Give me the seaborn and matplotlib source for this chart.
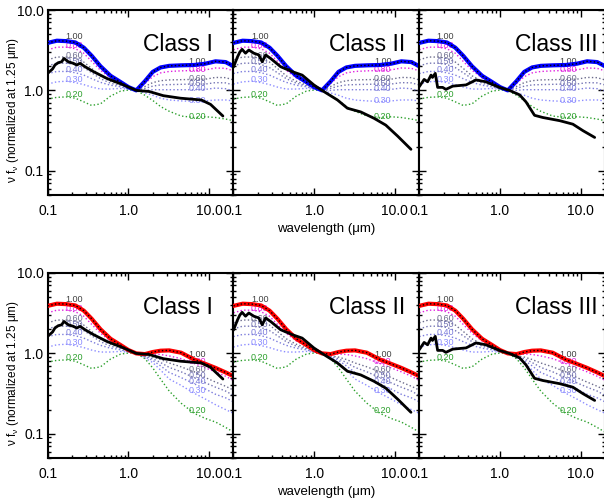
import numpy as np
import matplotlib
matplotlib.use("Agg")
import matplotlib.pyplot as plt
from matplotlib.ticker import FixedLocator, FixedFormatter, LogLocator, NullFormatter
import seaborn as sns

# wavelength grid of the model curves (micron)
wave_uv = [0.1, 0.13, 0.17, 0.22, 0.28, 0.35, 0.45, 0.6, 0.8, 1.0, 1.25]
wave_ir = [1.6, 2.0, 2.5, 3.2, 4.5, 6.5, 9.0, 12.0, 16.0, 20.0]

frac_labels = ["1.00", "0.80", "0.60", "0.50", "0.40", "0.30", "0.20"]

# short wavelength part of the models (same in both rows)
uv_100 = [3.9, 4.15, 4.1, 3.95, 3.4, 2.7, 2.0, 1.52, 1.27, 1.1, 1.0]
uv_080 = [3.2, 3.45, 3.45, 3.3, 2.9, 2.3, 1.78, 1.43, 1.23, 1.08, 1.0]
uv_060 = [2.4, 2.6, 2.6, 2.5, 2.25, 1.88, 1.52, 1.3, 1.17, 1.06, 1.0]
uv_050 = [2.02, 2.18, 2.18, 2.1, 1.92, 1.66, 1.4, 1.23, 1.14, 1.05, 1.0]
uv_040 = [1.62, 1.72, 1.72, 1.66, 1.55, 1.4, 1.26, 1.16, 1.11, 1.04, 1.0]
uv_030 = [1.2, 1.28, 1.3, 1.25, 1.18, 1.1, 1.04, 1.04, 1.06, 1.03, 1.0]
uv_020 = [0.78, 0.82, 0.83, 0.8, 0.72, 0.65, 0.68, 0.85, 0.98, 1.01, 1.0]

# long wavelength part, top row (blue model)
ir_top_100 = [1.3, 1.7, 1.93, 2.02, 2.05, 2.07, 2.15, 2.3, 2.25, 2.0]
ir_top_080 = [1.22, 1.48, 1.65, 1.72, 1.75, 1.77, 1.8, 1.9, 1.88, 1.75]
ir_top_060 = [1.12, 1.25, 1.32, 1.35, 1.36, 1.37, 1.38, 1.45, 1.44, 1.35]
ir_top_050 = [1.06, 1.13, 1.17, 1.18, 1.19, 1.2, 1.2, 1.25, 1.24, 1.17]
ir_top_040 = [1.0, 1.02, 1.02, 1.02, 1.02, 1.02, 1.03, 1.07, 1.05, 0.98]
ir_top_030 = [0.93, 0.87, 0.8, 0.76, 0.74, 0.73, 0.74, 0.76, 0.76, 0.74]
ir_top_020 = [0.87, 0.75, 0.63, 0.55, 0.48, 0.46, 0.47, 0.46, 0.44, 0.42]

# long wavelength part, bottom row (red model)
ir_bot_100 = [0.98, 1.04, 1.08, 1.09, 1.02, 0.84, 0.74, 0.66, 0.58, 0.52]
ir_bot_080 = [0.96, 0.98, 0.97, 0.93, 0.86, 0.75, 0.66, 0.59, 0.52, 0.46]
ir_bot_060 = [0.93, 0.9, 0.84, 0.76, 0.68, 0.59, 0.5, 0.44, 0.39, 0.35]
ir_bot_050 = [0.92, 0.86, 0.77, 0.67, 0.59, 0.5, 0.43, 0.38, 0.34, 0.3]
ir_bot_040 = [0.9, 0.82, 0.7, 0.58, 0.5, 0.42, 0.36, 0.31, 0.28, 0.25]
ir_bot_030 = [0.88, 0.77, 0.62, 0.48, 0.4, 0.32, 0.27, 0.23, 0.2, 0.18]
ir_bot_020 = [0.86, 0.66, 0.48, 0.34, 0.24, 0.18, 0.155, 0.14, 0.12, 0.105]

# observed SEDs (black lines)
class_names = ["Class I", "Class II", "Class III"]
obs_wave_1 = [0.1, 0.115, 0.123, 0.135, 0.149, 0.159, 0.18, 0.208, 0.229, 0.252, 0.29,
              0.37, 0.54, 0.87, 1.25, 1.8, 2.7, 4.4, 8.0, 10.4, 14.8]
obs_flux_1 = [1.63, 1.85, 2.07, 2.21, 2.27, 2.5, 2.27, 2.17, 2.07, 2.17, 1.97,
              1.71, 1.41, 1.17, 1.0, 0.97, 0.86, 0.8, 0.76, 0.67, 0.48]
obs_wave_2 = [0.1, 0.112, 0.12, 0.128, 0.141, 0.155, 0.179, 0.206, 0.227, 0.25, 0.288,
              0.384, 0.535, 0.71, 0.99, 1.25, 1.94, 2.58, 3.77, 5.5, 7.7, 10.8, 15.8]
obs_flux_2 = [1.95, 2.6, 3.0, 3.24, 2.9, 3.18, 2.9, 2.76, 2.27, 2.76, 2.5,
              1.97, 1.71, 1.55, 1.17, 1.0, 0.76, 0.6, 0.54, 0.45, 0.37, 0.27, 0.185]
obs_wave_3 = [0.1, 0.115, 0.127, 0.14, 0.146, 0.158, 0.169, 0.195, 0.214, 0.26, 0.38,
              0.505, 0.67, 0.98, 1.31, 1.75, 2.1, 2.68, 3.4, 5.5, 8.0, 10.7, 14.9]
obs_flux_3 = [1.11, 1.37, 1.28, 1.55, 1.45, 1.63, 1.09, 1.09, 1.03, 1.13, 1.17,
              1.35, 1.28, 1.09, 1.0, 0.88, 0.72, 0.49, 0.46, 0.42, 0.38, 0.315, 0.26]

sns.set_style("ticks")
plt.rcParams['font.family'] = ['Liberation Sans', 'DejaVu Sans']
plt.rcParams['mathtext.fontset'] = 'custom'
plt.rcParams['mathtext.rm'] = 'Liberation Sans'
plt.rcParams['mathtext.it'] = 'Liberation Sans:italic'
plt.rcParams['text.color'] = 'black'
plt.rcParams['axes.labelcolor'] = 'black'

line_colors = ["black", "#e020e0", "#6c6c8c", "#7474b4", "#7c7cdc", "#8c8cff", "#2ca02c"]
text_colors = ["#404040", "#e020e0", "#6c6c8c", "#7474b4", "#7c7cdc", "#8c8cff", "#2ca02c"]

wave = wave_uv + wave_ir
uv_list = [uv_100, uv_080, uv_060, uv_050, uv_040, uv_030, uv_020]
top_curves = [u + r for u, r in zip(uv_list, [ir_top_100, ir_top_080, ir_top_060, ir_top_050,
                                              ir_top_040, ir_top_030, ir_top_020])]
bot_curves = [u + r for u, r in zip(uv_list, [ir_bot_100, ir_bot_080, ir_bot_060, ir_bot_050,
                                              ir_bot_040, ir_bot_030, ir_bot_020])]
observed = [(obs_wave_1, obs_flux_1), (obs_wave_2, obs_flux_2), (obs_wave_3, obs_flux_3)]


def curve_at(x, curve):
    return 10 ** np.interp(np.log10(x), np.log10(wave), np.log10(curve))


fig = plt.figure(figsize=(6.04, 4.99), dpi=100)
left = 47.7 / 604
right = 605.0 / 604
pw = (right - left) / 3
ph = 185.0 / 499
rows = [(1 - 195.0 / 499, top_curves, "#0000ff"), (1 - 458.0 / 499, bot_curves, "#ff0000")]

for bottom, curves, thick_color in rows:
    for j in range(3):
        ax = fig.add_axes([left + j * pw, bottom, pw, ph])
        ax.set_xscale('log')
        ax.set_yscale('log')

        # mixture models, dotted
        for k in range(1, len(curves)):
            sns.lineplot(x=wave, y=curves[k], ax=ax, color=line_colors[k],
                         lw=1.0, linestyle=':', zorder=2)
        # labels of the fractions
        for k, curve in enumerate(curves):
            lift = 1.13 if k == 0 else 1.06
            ax.text(0.165, curve_at(0.165, curve) * lift, frac_labels[k], fontsize=6.5,
                    color=text_colors[k], ha='left', va='center', zorder=3)
            lift = 1.1 if k == 0 else 1.03
            ax.text(5.5, curve_at(6.0, curve) * lift, frac_labels[k], fontsize=6.5,
                    color=text_colors[k], ha='left', va='center', zorder=3)
        # pure model, thick
        sns.lineplot(x=wave, y=curves[0], ax=ax, color=thick_color, lw=3, zorder=4)
        sns.lineplot(x=wave, y=curves[0], ax=ax, color='black', lw=1, linestyle=':', zorder=5)
        # observed SED
        ow, of = observed[j]
        sns.lineplot(x=ow, y=of, ax=ax, color='black', lw=2, zorder=6)

        ax.text(0.513, 0.816, class_names[j], transform=ax.transAxes, fontsize=16.5,
                color='black', ha='left', va='center')

        ax.set_xlim(0.1, 20)
        ax.set_ylim(0.05, 10)
        for axis in (ax.xaxis, ax.yaxis):
            axis.set_major_locator(FixedLocator([0.1, 1, 10]))
            axis.set_major_formatter(FixedFormatter(['0.1', '1.0', '10.0']))
            axis.set_minor_locator(LogLocator(base=10, subs=np.arange(2, 10) * 1.0, numticks=20))
            axis.set_minor_formatter(NullFormatter())
        ax.tick_params(which='both', direction='in', top=True, right=True,
                       width=1, labelsize=10, colors='black')
        ax.tick_params(which='major', length=5, pad=6.5)
        ax.tick_params(axis='y', which='major', pad=3)
        ax.tick_params(which='minor', length=2.5)
        for sp in ax.spines.values():
            sp.set_linewidth(1.5)
            sp.set_color('black')
        ax.set_xlabel('')
        ax.set_ylabel('')
        if j == 0:
            ax.set_ylabel('ν f$_{\\mathrm{ν}}$ (normalized at 1.25 μm)', fontsize=8.5)
            ax.yaxis.set_label_coords(-0.144, 0.46)
        else:
            ax.tick_params(labelleft=False)
        if j == 1:
            ax.set_xlabel('wavelength (μm)', fontsize=9.5, labelpad=3.5)

fig.savefig('out.png', dpi=100)
